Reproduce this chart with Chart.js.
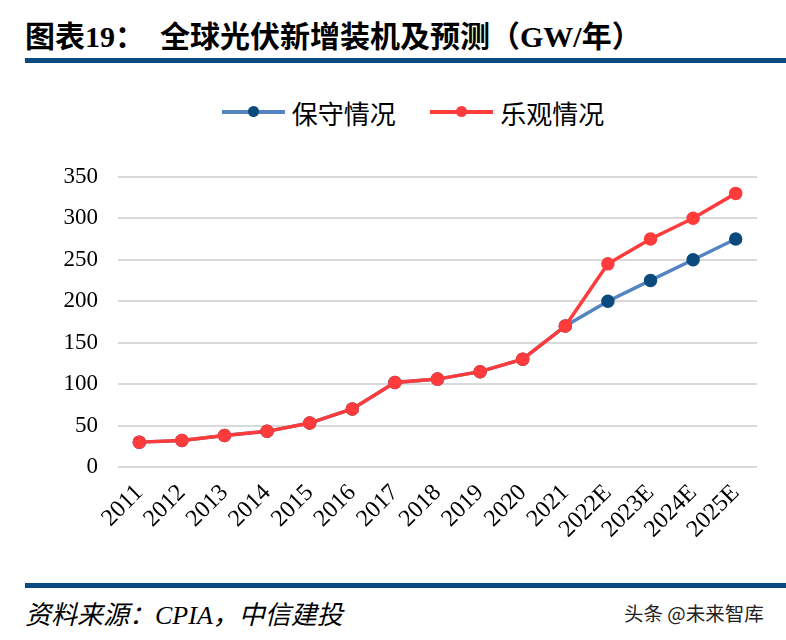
<!DOCTYPE html>
<html>
<head>
<meta charset="utf-8">
<script src="https://cdn.jsdelivr.net/npm/chart.js@4"></script>
<style>
  body{margin:0;width:786px;height:640px;background:#fff;position:relative;overflow:hidden;font-family:"Liberation Serif","Noto Sans CJK SC",serif;}
  #title{position:absolute;left:25px;top:12px;font-size:30px;font-weight:bold;color:#000;white-space:nowrap;}
  .rule{position:absolute;left:25px;right:0;height:5px;background:#0b4a80;}
  #legend{position:absolute;top:91px;left:20px;width:786px;text-align:center;font-size:26px;}
  .item{display:inline-flex;align-items:center;margin:0 14px;}
  .sw{position:relative;width:63px;height:4px;margin-right:7px;}
  .sw i{position:absolute;left:26px;top:-4px;width:11px;height:11px;border-radius:50%;}
  #wrap{position:absolute;left:0;top:143px;width:786px;height:427px;}
  #src{position:absolute;left:25px;top:594px;font-size:26px;font-style:italic;}
  #wm{position:absolute;left:624px;top:598px;font-size:19.5px;color:#222;font-family:"Noto Sans CJK SC",sans-serif;}
</style>
</head>
<body>
<div id="title">图表19：　全球光伏新增装机及预测（GW/年）</div>
<div class="rule" style="top:58px"></div>
<div id="legend">
  <span class="item"><span class="sw" style="background:#5585c0"><i style="background:#0b4a7d"></i></span>保守情况</span>
  <span class="item"><span class="sw" style="background:#ff3b3b"><i style="background:#ff3b3b"></i></span>乐观情况</span>
</div>
<div id="wrap"><canvas id="chart"></canvas></div>
<div class="rule" style="top:583px"></div>
<div id="src">资料来源：CPIA，中信建投</div>
<div id="wm">头条 @未来智库</div>
<script>
const years = ["2011","2012","2013","2014","2015","2016","2017","2018","2019","2020","2021","2022E","2023E","2024E","2025E"];
const conservative = [30,32,38,43,53,70,102,106,115,130,170,200,225,250,275];
const optimistic = [30,32,38,43,53,70,102,106,115,130,170,245,275,300,330];
const yTicks = [0,50,100,150,200,250,300,350];

const ctx = document.getElementById("chart");
new Chart(ctx,{
  type:'line',
  data:{
    labels:years,
    datasets:[{
      label:"保守情况",
      data:conservative,
      borderColor:"#5585c0",
      backgroundColor:"#0b4a7d",
      pointBackgroundColor:"#0b4a7d",
      pointBorderColor:"#0b4a7d",
      borderWidth:3.5,
      pointRadius:5,
      tension:0,
      order:1
    },{
      label:"乐观情况",
      data:optimistic,
      borderColor:"#ff3b3b",
      backgroundColor:"#ff3b3b",
      pointBackgroundColor:"#ff3b3b",
      pointBorderColor:"#ff3b3b",
      borderWidth:3.5,
      pointRadius:5,
      tension:0,
      order:0
    }]
  },
  options:{
    responsive:true,
    maintainAspectRatio:false,
    animation:false,
    layout:{padding:{top:19,right:29,left:0,bottom:0}},
    plugins:{legend:{display:false},tooltip:{enabled:false}},
    scales:{
      x:{
        offset:true,
        grid:{display:false},
        border:{display:false},
        ticks:{color:"#000",font:{family:"Liberation Serif",size:24},minRotation:45,maxRotation:45,padding:4,autoSkip:false},
        afterFit:s=>{s.height=103;}
      },
      y:{
        min:0,max:350,
        afterBuildTicks:s=>{s.ticks=yTicks.map(v=>({value:v}));},
        grid:{color:"#d9d9d9",lineWidth:2,drawTicks:false},
        border:{display:false},
        ticks:{color:"#000",font:{family:"Liberation Serif",size:23},padding:20},
        afterFit:s=>{s.width=118;}
      }
    }
  }
});
</script>
</body>
</html>
